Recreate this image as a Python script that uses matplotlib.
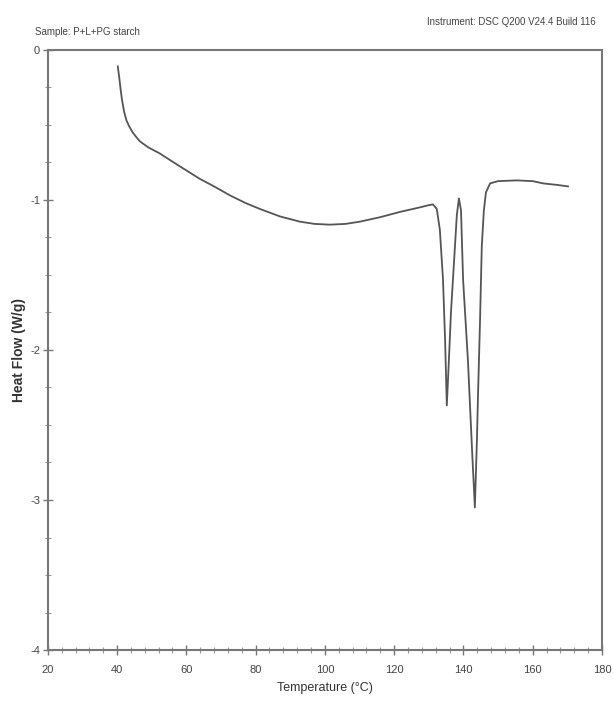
import matplotlib.pyplot as plt
from matplotlib.ticker import MultipleLocator

plt.rcParams['font.family'] = ['Liberation Sans', 'DejaVu Sans']
plt.rcParams['axes.unicode_minus'] = False

# temperature (C) and heat flow (W/g)
temperature = [40.2, 40.6, 41.0, 41.4, 42.0, 42.7, 43.5, 44.5, 45.5, 46.6, 49.0,
               52.3, 57.0, 63.9, 68.0, 72.6, 77.0, 81.2, 87.0, 92.8, 97.0, 101.4,
               106.0, 110.1, 116.0, 121.7, 127.4, 130.0, 131.2, 132.3, 133.2, 134.1,
               134.7, 135.2, 135.8, 136.4, 137.5, 138.1, 138.7, 139.3, 139.9,
               141.3, 142.5, 143.3, 143.9, 144.2, 144.8, 145.3, 145.9, 146.5,
               147.7, 150.0, 155.4, 160.0, 163.0, 167.0, 170.2]
heat_flow = [-0.11, -0.18, -0.26, -0.33, -0.41, -0.47, -0.51, -0.55, -0.58, -0.61,
             -0.65, -0.69, -0.76, -0.86, -0.91, -0.97, -1.02, -1.06, -1.11, -1.145,
             -1.16, -1.165, -1.16, -1.145, -1.115, -1.08, -1.05, -1.035, -1.03,
             -1.06, -1.20, -1.53, -1.93, -2.37, -2.07, -1.75, -1.33, -1.10, -0.99,
             -1.07, -1.53, -2.07, -2.67, -3.05, -2.60, -2.31, -1.80, -1.31, -1.07,
             -0.95, -0.89, -0.875, -0.87, -0.875, -0.89, -0.90, -0.91]

sample_text = "Sample: P+L+PG starch"
instrument_text = "Instrument: DSC Q200 V24.4 Build 116"

fig = plt.figure(figsize=(6.13, 7.02), dpi=100)
ax = fig.add_axes([0.078, 0.074, 0.904, 0.855])

ax.plot(temperature, heat_flow, color='#555555', linewidth=1.3)

ax.set_xlim(20, 180)
ax.set_ylim(-4, 0)
ax.xaxis.set_major_locator(MultipleLocator(20))
ax.xaxis.set_minor_locator(MultipleLocator(4))
ax.yaxis.set_major_locator(MultipleLocator(1))
ax.yaxis.set_minor_locator(MultipleLocator(0.25))

for side in ['left', 'right', 'top', 'bottom']:
    ax.spines[side].set_color('#777777')
    ax.spines[side].set_linewidth(1.5)

ax.tick_params(which='major', direction='inout', length=7, width=1, color='#777777',
               labelsize=8, labelcolor='#444444', pad=2)
ax.tick_params(axis='x', which='major', pad=7)
ax.tick_params(which='minor', direction='inout', length=4, width=0.8, color='#999999')

ax.set_xlabel("Temperature (°C)", fontsize=9, color='#333333', labelpad=5)
ax.set_ylabel("Heat Flow (W/g)", fontsize=10, color='#333333', fontweight='bold')
ax.yaxis.set_label_coords(-0.04, 0.5)

fig.text(0.057, 0.955, sample_text, fontsize=7, color='#444444', ha='left', va='center')
fig.text(0.972, 0.968, instrument_text, fontsize=7, color='#444444', ha='right', va='center')

fig.savefig("out.png", dpi=100)
